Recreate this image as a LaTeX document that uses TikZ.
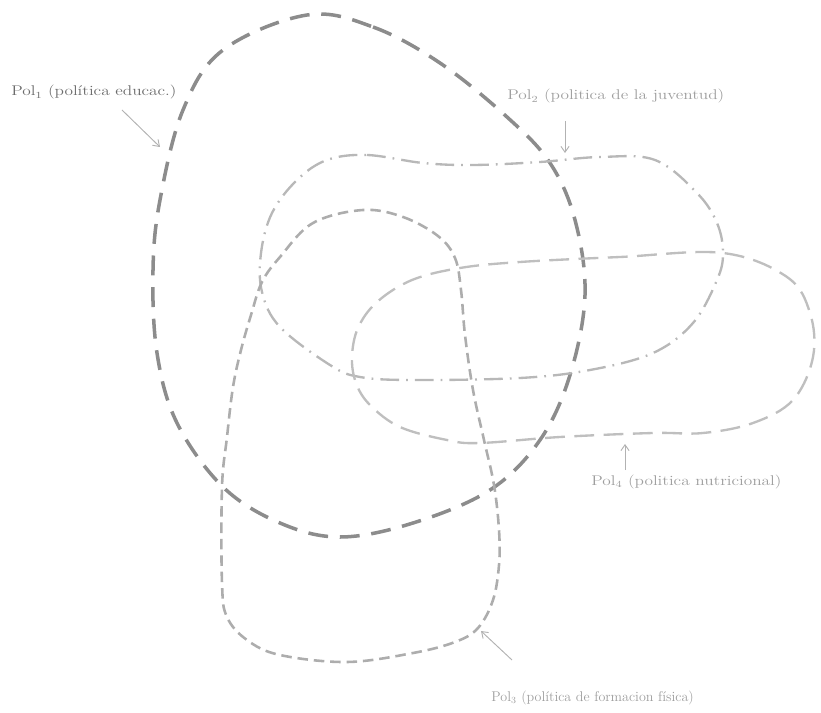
\documentclass[tikz,border=0pt]{standalone}
\usepackage{tikz}
\usetikzlibrary{arrows.meta, positioning}

\newcommand{\widetext}[1]{\scalebox{1.23}[1]{#1}}

\begin{document}
\begin{tikzpicture}[x=0.03cm, y=-0.03cm,
  polone/.style={draw=black!45, line width=3pt, dash pattern=on 17pt off 10pt},
  poltwo/.style={draw=black!28, line width=2pt, dash pattern=on 16pt off 6pt on 1.5pt off 6pt},
  polthree/.style={draw=black!32, line width=2.2pt, dash pattern=on 9pt off 5pt},
  polfour/.style={draw=black!25, line width=2pt, dash pattern=on 17pt off 8pt},
  pollabel/.style={font=\large, text=black!38, inner sep=1pt, anchor=base west},
  polarrow/.style={draw=black!30, line width=0.8pt, -{Straight Barb[length=5pt, width=7pt]}}
]
  \useasboundingbox (0,0) rectangle (821,713);

  % Pol1
  \draw[polone] plot[smooth cycle, tension=0.6] coordinates {
    (307,15) (373,27) (440,63) (507,117) (550,163) (575,220) (585,295)
    (570,375) (540,440) (490,490) (413,523) (340,537) (280,523) (223,487)
    (177,423) (157,353) (153,270) (160,200) (183,110) (223,50)};
  % Pol2
  \draw[poltwo] plot[smooth cycle, tension=0.6] coordinates {
    (327,160) (367,155) (423,163) (473,165) (540,162) (600,157) (655,160)
    (697,193) (717,223) (723,253) (717,280) (693,323) (653,353) (590,370)
    (520,378) (413,380) (360,377) (330,365) (280,327) (262,292) (261,253)
    (272,213) (297,180)};
  % Pol3
  \draw[polthree] plot[smooth cycle, tension=0.6] coordinates {
    (363,210) (403,217) (438,236) (455,258) (461,290) (465,335) (473,390)
    (484,440) (494,485) (499,530) (499,565) (493,600) (478,628) (455,642)
    (413,653) (347,662) (280,655) (247,640) (227,617) (222,583) (222,487)
    (227,437) (233,387) (241,350) (251,315) (262,282) (280,257) (313,223)};
  % Pol4
  \draw[polfour] plot[smooth cycle, tension=0.6] coordinates {
    (460,268) (520,262) (620,257) (723,253) (787,277) (810,313) (813,357)
    (793,400) (753,423) (703,433) (653,433) (560,437) (480,443) (447,440)
    (400,427) (370,405) (356,383) (352,357) (358,328) (377,302) (412,280)};

  % labels
  \node[pollabel, text=black!58] (labone) at (10,96) {\widetext{Pol$_1$ (política educac.)}};
  \node[pollabel] (labtwo) at (506,100) {\widetext{Pol$_2$ (politica de la juventud)}};
  \node[pollabel] (labfour) at (590,485) {\widetext{Pol$_4$ (politica nutricional)}};
  \node[pollabel] (labthree) at (490,701) {Pol$_3$ (política de formacion física)};

  % pointers
  \coordinate (onetail) at (122,110);
  \coordinate (onetip) at (160,147);
  \coordinate (twotail) at (565,121);
  \coordinate (twotip) at (565,153);
  \coordinate (fourtail) at (625,470);
  \coordinate (fourtip) at (625,444);
  \coordinate (threetail) at (512,660);
  \coordinate (threetip) at (481,631);
  \draw[polarrow] (onetail) -- (onetip);
  \draw[polarrow] (twotail) -- (twotip);
  \draw[polarrow] (fourtail) -- (fourtip);
  \draw[polarrow] (threetail) -- (threetip);
\end{tikzpicture}
\end{document}
